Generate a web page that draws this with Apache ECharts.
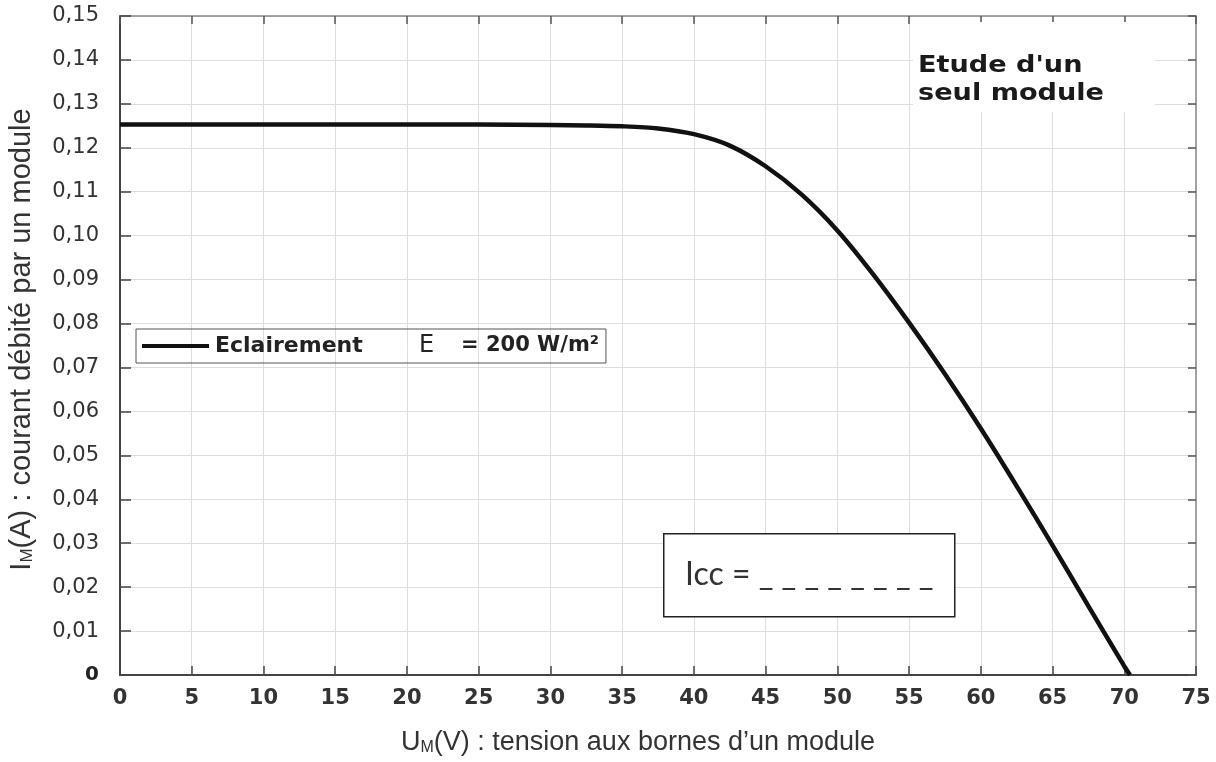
<!DOCTYPE html>
<html>
<head>
<meta charset="utf-8">
<script src="https://cdn.jsdelivr.net/npm/echarts@6/dist/echarts.min.js"></script>
<style>
  html, body { margin: 0; padding: 0; background: #fff; }
  #chart { width: 1216px; height: 762px; }
</style>
</head>
<body>
<div id="chart"></div>
<script>
// I-V curve of a single PV module at E = 200 W/m².
const voltage = [0, 5, 10, 15, 20, 25, 30, 32.5, 35, 37.5, 40, 42.5, 45, 47.5, 50,
  52.5, 55, 57.5, 60, 62.5, 65, 67.5, 70, 70.4]
const current = [0.1253, 0.1253, 0.1253, 0.1253, 0.1253, 0.1253, 0.1252, 0.1251, 0.1249,
  0.1244, 0.1231, 0.1205, 0.1158, 0.1094, 0.1012, 0.0912, 0.0802, 0.0685, 0.0561,
  0.0430, 0.0295, 0.0157, 0.0020, 0]

const seriesName = "Eclairement"
const titleLines = ["Etude d'un", "seul module"]
const iccText = "Icc = _ _ _ _ _ _ _ _"

const SANS = "Liberation Sans, Arial, sans-serif"
const DEJAVU = "DejaVu Sans, sans-serif"
const GRID_COLOR = "#dedede"
const AXIS_COLOR = "#444"
const FRAME_COLOR = "#8a8a8a"

const formatCurrent = (v) => {
  if (Math.abs(v) < 1e-9) return "{zero|0}"
  return v.toFixed(2).replace(".", ",")
}

const chart = echarts.init(document.getElementById("chart"))

const option = {
  animation: false,
  backgroundColor: "#fff",
  textStyle: {fontFamily: SANS},
  grid: {left: 120, right: 20, top: 16, bottom: 87, outerBoundsMode: "none", containLabel: false},
  legend: {
    show: true,
    left: 136,
    top: 329,
    padding: [5, 7, 5, 6],
    borderColor: "#555",
    borderWidth: 1,
    icon: "rect",
    itemWidth: 67,
    itemHeight: 4,
    data: [seriesName],
    formatter: () => "{a|Eclairement}{e|E}{b|= 200 W/m²}",
    textStyle: {
      padding: [0, 0, 0, 1],
      rich: {
        a: {fontFamily: DEJAVU, fontWeight: "bold", fontSize: 22, color: "#222", width: 204, height: 26},
        e: {fontFamily: DEJAVU, fontSize: 24, color: "#222", width: 42, height: 26},
        b: {fontFamily: DEJAVU, fontWeight: "bold", fontSize: 21, color: "#222", height: 26},
      },
    },
  },
  xAxis: [
    {
      type: "value",
      min: 0,
      max: 75,
      interval: 5,
      name: "{n|U}{s|M}{n|(V) : tension aux bornes d’un module}",
      nameLocation: "middle",
      nameGap: 54,
      nameTextStyle: {
        padding: [0, 40, 0, 0],
        rich: {
          n: {fontFamily: SANS, fontSize: 27, color: "#333"},
          s: {fontFamily: SANS, fontSize: 16, color: "#333", verticalAlign: "bottom", padding: [10, 0, 0, 0]},
        },
      },
      axisLine: {show: true, onZero: false, lineStyle: {color: AXIS_COLOR, width: 2}},
      axisTick: {show: true, inside: true, length: 9, lineStyle: {color: AXIS_COLOR, width: 1.5}},
      axisLabel: {
        margin: 13,
        fontFamily: DEJAVU,
        fontWeight: "bold",
        fontSize: 21,
        color: "#333",
      },
      splitLine: {show: true, lineStyle: {color: GRID_COLOR, width: 1}},
    },
    {
      type: "value",
      position: "top",
      min: 0,
      max: 75,
      interval: 5,
      axisLine: {show: true, onZero: false, lineStyle: {color: FRAME_COLOR, width: 1.5}},
      axisTick: {show: true, inside: true, length: 8, lineStyle: {color: "#555", width: 1.5}},
      axisLabel: {show: false},
      splitLine: {show: false},
    },
  ],
  yAxis: [
    {
      type: "value",
      min: 0,
      max: 0.15,
      interval: 0.01,
      name: "{n|I}{s|M}{n|(A) : courant débité par un module}",
      nameLocation: "middle",
      nameGap: 84,
      nameRotate: 90,
      nameTextStyle: {
        padding: [0, 0, 0, 12],
        rich: {
          n: {fontFamily: SANS, fontSize: 29, color: "#333"},
          s: {fontFamily: SANS, fontSize: 17, color: "#333", verticalAlign: "bottom", padding: [10, 0, 0, 0]},
        },
      },
      axisLine: {show: true, onZero: false, lineStyle: {color: AXIS_COLOR, width: 2}},
      axisTick: {show: true, inside: true, length: 11, lineStyle: {color: AXIS_COLOR, width: 1.5}},
      axisLabel: {
        margin: 21,
        fontFamily: DEJAVU,
        fontSize: 21,
        color: "#333",
        formatter: formatCurrent,
        rich: {
          zero: {fontFamily: DEJAVU, fontWeight: "bold", fontSize: 20, color: "#222"},
        },
      },
      splitLine: {show: true, lineStyle: {color: GRID_COLOR, width: 1}},
    },
    {
      type: "value",
      position: "right",
      min: 0,
      max: 0.15,
      interval: 0.01,
      axisLine: {show: true, onZero: false, lineStyle: {color: FRAME_COLOR, width: 1.5}},
      axisTick: {show: true, inside: true, length: 8, lineStyle: {color: "#555", width: 1.5}},
      axisLabel: {show: false},
      splitLine: {show: false},
    },
  ],
  series: [
    {
      name: seriesName,
      type: "line",
      xAxisIndex: 0,
      yAxisIndex: 0,
      data: voltage.map((v, i) => [v, current[i]]),
      smooth: 0.3,
      showSymbol: false,
      symbol: "none",
      itemStyle: {color: "#111"},
      lineStyle: {color: "#111", width: 4.5},
      z: 5,
    },
  ],
  graphic: [
    {
      type: "rect",
      left: 913,
      top: 22,
      shape: {width: 242, height: 90},
      style: {fill: "#fff"},
      z: 10,
    },
    {
      type: "text",
      x: 918,
      y: 52,
      scaleX: 1.18,
      style: {
        text: titleLines.join("\n"),
        font: "bold 23px " + DEJAVU,
        fill: "#1a1a1a",
        lineHeight: 28,
        verticalAlign: "top",
      },
      z: 11,
    },
    {
      type: "rect",
      left: 663,
      top: 533,
      shape: {width: 291, height: 83},
      style: {fill: "#fff", stroke: "#222", lineWidth: 1.5},
      z: 10,
    },
    {
      type: "text",
      x: 685,
      y: 575,
      style: {
        text: iccText,
        font: "32px Lato, " + SANS,
        fill: "#333",
        verticalAlign: "middle",
      },
      z: 11,
    },
  ],
}

chart.setOption(option)
</script>
</body>
</html>
